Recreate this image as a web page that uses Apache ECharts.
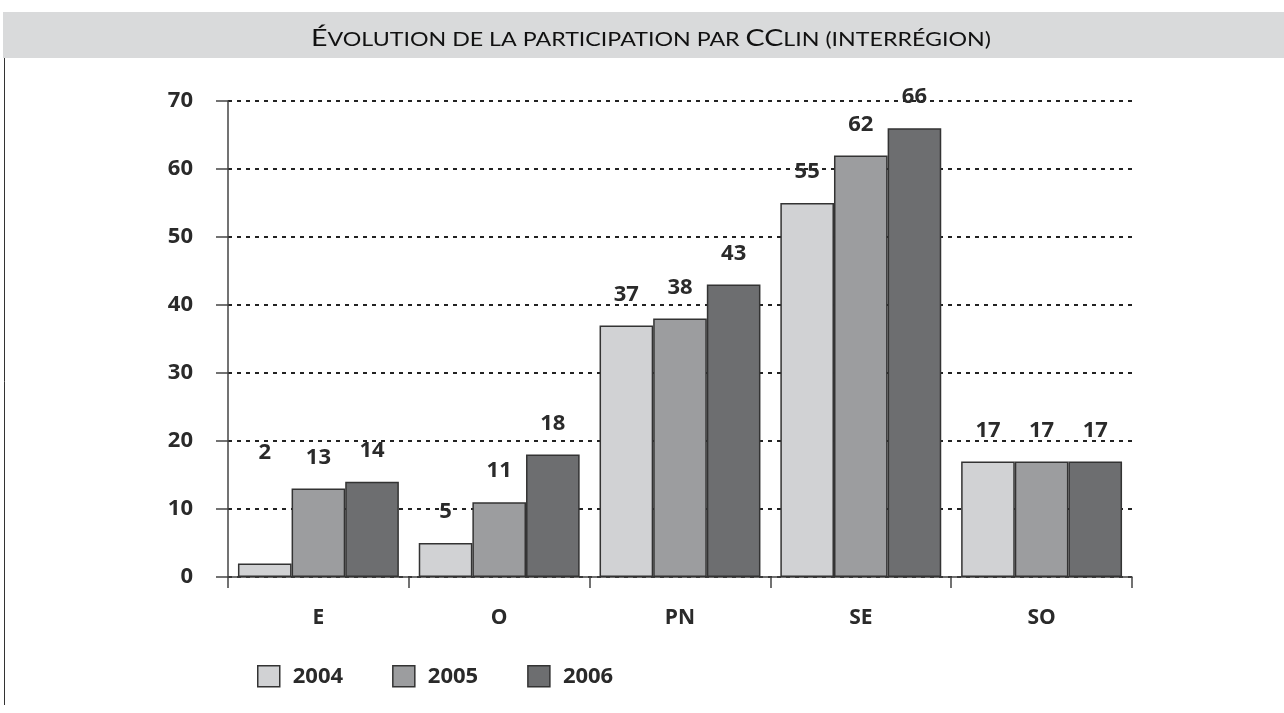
<!DOCTYPE html>
<html>
<head>
<meta charset="utf-8">
<script src="https://cdn.jsdelivr.net/npm/echarts@6/dist/echarts.min.js"></script>
<style>
html,body{margin:0;padding:0;background:#fff;}
#chart{width:1284px;height:713px;}
</style>
</head>
<body>
<div id="chart"></div>
<script>
var categories = ['E', 'O', 'PN', 'SE', 'SO'];
var seriesNames = ['2004', '2005', '2006'];
var values2004 = [2, 5, 37, 55, 17];
var values2005 = [13, 11, 38, 62, 17];
var values2006 = [14, 18, 43, 66, 17];
var yTicks = [0, 10, 20, 30, 40, 50, 60, 70];

var colors = ['#d1d2d4', '#9c9d9f', '#6d6e70'];
var allValues = [values2004, values2005, values2006];
var FONT = '"Open Sans", sans-serif';
var TFONT = 'Lato, "Open Sans", sans-serif';

function buildData(vals, si) {
  return vals.map(function (v, i) {
    var d = { value: v };
    if (si === 0 && i === 0) { d.label = { offset: [0, -80] }; }
    return d;
  });
}

var series = seriesNames.map(function (name, si) {
  return {
    name: name,
    type: 'bar',
    data: buildData(allValues[si], si),
    barGap: '0%',
    barCategoryGap: '11%',
    itemStyle: { color: colors[si], borderColor: '#333', borderWidth: 1.5 },
    label: {
      show: true, position: 'top', distance: 20,
      color: '#2a2a2a', fontFamily: FONT, fontWeight: 'bold', fontSize: 22
    },
    emphasis: { disabled: true }
  };
});

var chart = echarts.init(document.getElementById('chart'), null, { renderer: 'canvas' });
chart.setOption({
  backgroundColor: '#fff',
  animation: false,
  graphic: [
    { type: 'rect', left: 3, top: 12, shape: { width: 1281, height: 46 }, style: { fill: '#d9dadb' }, z: -1 },
    { type: 'line', shape: { x1: 4.5, y1: 58, x2: 4.5, y2: 705 }, style: { stroke: '#333', lineWidth: 1 } },
    {
      type: 'text', x: 651, y: 26, scaleX: 1.19,
      style: {
        text: '{a|É}{b|VOLUTION DE LA PARTICIPATION PAR }{a|CC}{b|LIN (INTERRÉGION)}',
        align: 'center', verticalAlign: 'top',
        fill: '#111',
        rich: {
          a: { fontFamily: TFONT, fontSize: 24, fill: '#111', verticalAlign: 'bottom' },
          b: { fontFamily: TFONT, fontSize: 19.5, fill: '#111', verticalAlign: 'bottom' }
        }
      }
    }
  ],
  legend: {
    data: seriesNames,
    left: 257, top: 665, padding: 0,
    itemWidth: 22, itemHeight: 21, itemGap: 49,
    icon: 'rect',
    itemStyle: { borderColor: '#333', borderWidth: 1.5 },
    textStyle: { color: '#2a2a2a', fontFamily: FONT, fontWeight: 'bold', fontSize: 22, padding: [0, 0, 0, 8] }
  },
  grid: { left: 228, right: 152, top: 101, bottom: 136, containLabel: false },
  xAxis: {
    type: 'category',
    data: categories,
    axisLine: { lineStyle: { color: '#444', width: 1.5 } },
    axisTick: { show: true, length: 11, lineStyle: { color: '#444', width: 1.5 } },
    axisLabel: { margin: 31, color: '#2a2a2a', fontFamily: FONT, fontWeight: 'bold', fontSize: 21 }
  },
  yAxis: {
    type: 'value',
    min: yTicks[0], max: yTicks[yTicks.length - 1], interval: 10,
    axisLine: { show: true, lineStyle: { color: '#444', width: 1.5 } },
    axisTick: { show: true, length: 12, lineStyle: { color: '#444', width: 1.5 } },
    axisLabel: { margin: 35, color: '#2a2a2a', fontFamily: FONT, fontWeight: 'bold', fontSize: 22 },
    splitLine: { show: true, lineStyle: { color: '#222', width: 2, type: [4, 5] } }
  },
  series: series
});
</script>
</body>
</html>
